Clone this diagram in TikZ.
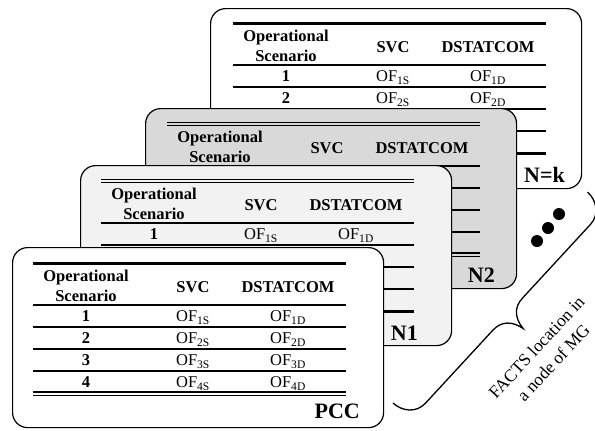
\documentclass[tikz,border=0pt]{standalone}
\usepackage{fontspec}
\setmainfont{Liberation Serif}
\definecolor{cardA}{HTML}{F2F2F2}
\definecolor{cardB}{HTML}{D9D9D9}
\tikzset{
  card/.style={draw, line width=1.2bp, rounded corners=15bp, inner sep=0pt,
    minimum width=371bp, minimum height=180bp, anchor=north west},
  hdr/.style={font=\bfseries\fontsize{16.5bp}{19.5bp}\selectfont, align=center, inner sep=0pt},
  cell/.style={font=\fontsize{16.5bp}{19.5bp}\selectfont, inner sep=0pt, anchor=base},
  lbl/.style={font=\bfseries\fontsize{22bp}{24bp}\selectfont, inner sep=0pt, anchor=base east},
  rulethin/.style={line width=1.6bp},
}
\newcommand\fxTopThick{\draw[line width=3bp] (0,0) -- (313,0);}
\newcommand\fxTopDouble{\draw[line width=1.2bp] (0,-1.6) -- (313,-1.6) (0,1.6) -- (313,1.6);}
\newcommand\fxMid{\foreach \yy in {42,64,86,108} {\draw[rulethin] (0,\yy) -- (313,\yy);}}
\newcommand\fxBotThick{\draw[line width=3bp] (0,130) -- (313,130);}
\newcommand\fxBotDouble{\draw[line width=1.8bp] (0,129) -- (313,129); \draw[line width=1.2bp] (0,132.5) -- (313,132.5);}
\newcommand\fxHeader[1]{%
  \node[hdr] (#1-h1) at (53,23) {Operational\\Scenario};
  \node[hdr, anchor=base] (#1-h2) at (160,29.5) {SVC};
  \node[hdr, anchor=base] (#1-h3) at (255,29.5) {DSTATCOM};}
\newcommand\fxRow[3]{%
  \node[hdr, anchor=base] (#1-r#2a) at (53,{#3+5.5}) {#2};
  \node[cell] (#1-r#2b) at (160,{#3+5.5}) {OF\textsubscript{#2S}};
  \node[cell] (#1-r#2c) at (255,{#3+5.5}) {OF\textsubscript{#2D}};}
\begin{document}
\begin{tikzpicture}[x=1bp,y=-1bp]
\useasboundingbox (0,0) rectangle (595,430);
% card N=k
\node[card, fill=white] (cardk) at (210,8) {};
\begin{scope}[shift={(233,23)}]
  \fxTopThick \fxMid \fxBotThick
  \fxHeader{k}
  \fxRow{k}{1}{53}
  \fxRow{k}{2}{75}
\end{scope}
\node[lbl] (labk) at (565,182) {N=k};
% card N2
\node[card, fill=cardB] (card2) at (145,108) {};
\begin{scope}[shift={(167,124)}]
  \fxTopDouble \fxMid \fxBotDouble
  \fxHeader{b}
\end{scope}
\node[lbl] (lab2) at (495,282) {N2};
% card N1
\node[card, fill=cardA] (card1) at (80,165) {};
\begin{scope}[shift={(101,181)}]
  \fxTopDouble \fxMid \fxBotThick
  \fxHeader{a}
  \fxRow{a}{1}{53}
\end{scope}
\node[lbl] (lab1) at (418,340) {N1};
% card PCC
\node[card, fill=white] (cardp) at (12,247) {};
\begin{scope}[shift={(33,263)}]
  \fxTopThick \fxMid \fxBotDouble
  \fxHeader{p}
  \fxRow{p}{1}{53}
  \fxRow{p}{2}{75}
  \fxRow{p}{3}{97}
  \fxRow{p}{4}{119}
\end{scope}
\node[lbl] (labp) at (360,418) {PCC};
% dots
\fill (537,241) circle[radius=6bp];
\fill (548,228) circle[radius=6bp];
\fill (559,214) circle[radius=6bp];
% brace
\begin{scope}[shift={(393,403)}, rotate=47.3]
  \draw[line width=1.3bp] (0,0) .. controls (0,12) and (8,24) .. (22,24) -- (121,24)
    .. controls (134,24) and (141,32) .. (143,45)
    .. controls (145,32) and (152,24) .. (165,24) -- (265,24)
    .. controls (279,24) and (287,12) .. (287,0);
\end{scope}
\node[rotate=47.3, align=center, font=\fontsize{17.5bp}{23bp}\selectfont, inner sep=0pt] (facts) at (545,355) {FACTS location in\\a node of MG};
\end{tikzpicture}
\end{document}
